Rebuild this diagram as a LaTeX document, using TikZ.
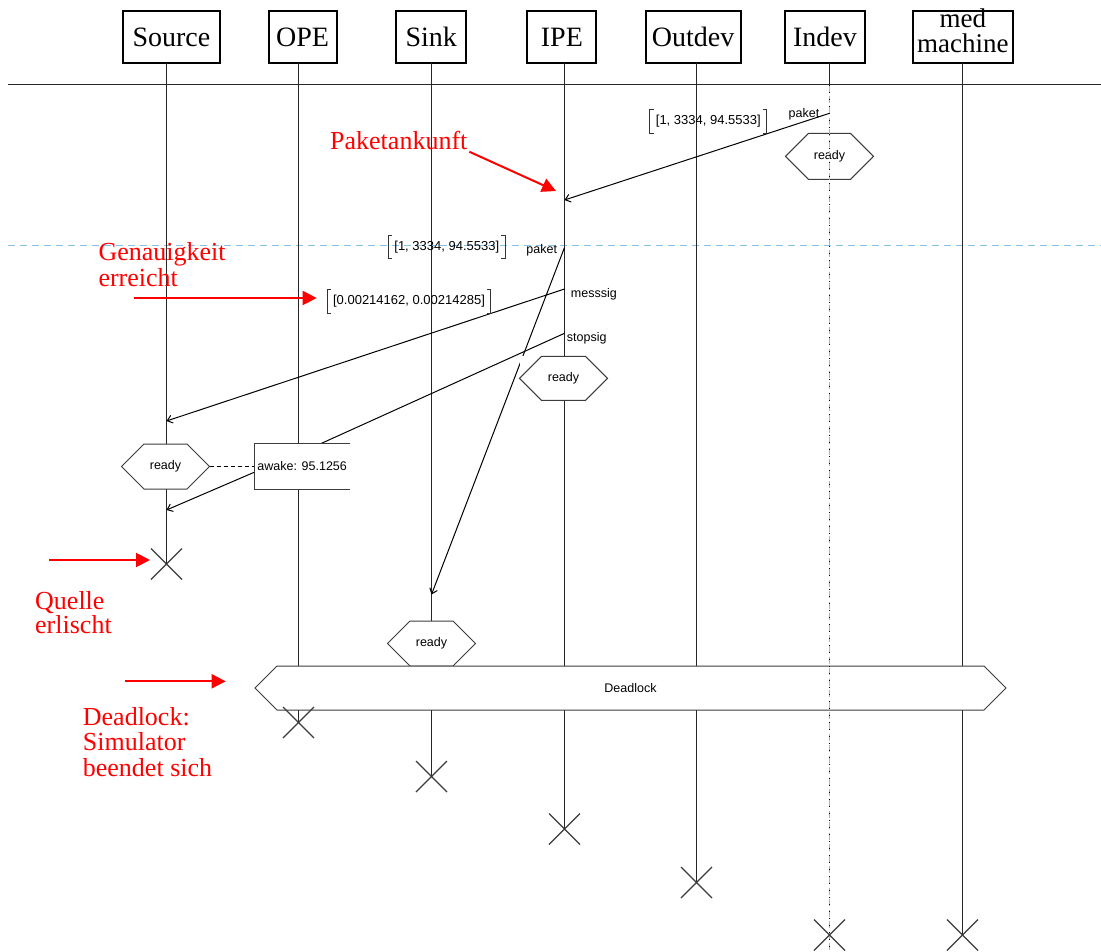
\documentclass[tikz,border=0pt]{standalone}
\usepackage{fontspec}
\setmainfont{Liberation Serif}
\newfontfamily\labfont{Liberation Sans}
\usetikzlibrary{arrows.meta,shapes.misc}

% Pointed state box: a rectangle whose left and right sides end in 45-degree points.
% Its whole bounding rectangle is painted white first, so it hides what lies below.
\makeatletter
\pgfdeclareshape{hexcell}{%
  \inheritsavedanchors[from=rectangle]%
  \inheritanchorborder[from=rectangle]%
  \inheritanchor[from=rectangle]{center}%
  \inheritanchor[from=rectangle]{mid}%
  \inheritanchor[from=rectangle]{base}%
  \inheritanchor[from=rectangle]{north}%
  \inheritanchor[from=rectangle]{south}%
  \inheritanchor[from=rectangle]{east}%
  \inheritanchor[from=rectangle]{west}%
  \inheritanchor[from=rectangle]{north east}%
  \inheritanchor[from=rectangle]{north west}%
  \inheritanchor[from=rectangle]{south east}%
  \inheritanchor[from=rectangle]{south west}%
  \behindbackgroundpath{%
    \begin{pgfscope}%
      \pgfpathrectanglecorners{\southwest}{\northeast}%
      \pgfsetfillcolor{white}%
      \pgfusepath{fill}%
    \end{pgfscope}%
  }%
  \backgroundpath{%
    \southwest \pgf@xa=\pgf@x \pgf@ya=\pgf@y
    \northeast \pgf@xb=\pgf@x \pgf@yb=\pgf@y
    \pgf@yc=\pgf@yb \advance\pgf@yc by -\pgf@ya \divide\pgf@yc by 2
    \pgf@xc=\pgf@xa \advance\pgf@xc by \pgf@yc
    \edef\hx@l{\the\pgf@xa}\edef\hx@li{\the\pgf@xc}%
    \pgf@xc=\pgf@xb \advance\pgf@xc by -\pgf@yc
    \edef\hx@ri{\the\pgf@xc}\edef\hx@r{\the\pgf@xb}%
    \pgf@xc=\pgf@ya \advance\pgf@xc by \pgf@yc
    \edef\hx@m{\the\pgf@xc}\edef\hx@t{\the\pgf@yb}\edef\hx@b{\the\pgf@ya}%
    \pgfpathmoveto{\pgfqpoint{\hx@l}{\hx@m}}%
    \pgfpathlineto{\pgfqpoint{\hx@li}{\hx@t}}%
    \pgfpathlineto{\pgfqpoint{\hx@ri}{\hx@t}}%
    \pgfpathlineto{\pgfqpoint{\hx@r}{\hx@m}}%
    \pgfpathlineto{\pgfqpoint{\hx@ri}{\hx@b}}%
    \pgfpathlineto{\pgfqpoint{\hx@li}{\hx@b}}%
    \pgfpathclose
  }%
}
\makeatother

\definecolor{lifegray}{HTML}{262626}
\definecolor{shapegray}{HTML}{3C3C3C}
\definecolor{gridblue}{HTML}{86C1E8}
\definecolor{notered}{HTML}{FF0000}

\tikzset{
  hdr/.style={draw=black, line width=2pt, minimum height=52.5pt, inner sep=0pt,
    outer sep=0pt, text height=19pt, text depth=0pt, font=\fontsize{28}{28}\selectfont},
  life/.style={draw=lifegray, line width=1.5pt},
  msg/.style={draw=black, line width=1pt},
  msgarrow/.style={msg, -{Straight Barb[length=5pt,width=8pt]}},
  state/.style={shape=hexcell, draw=shapegray, line width=1pt, minimum height=45pt,
    minimum width=88pt, inner sep=0pt, outer sep=0pt,
    font=\labfont\fontsize{12.5}{12.5}\selectfont},
  small/.style={font=\labfont\fontsize{12.5}{12.5}\selectfont, inner sep=0pt},
  vec/.style={font=\labfont\fontsize{13}{13}\selectfont, inner xsep=6pt, inner ysep=0pt,
    minimum height=23.5pt, outer sep=0pt},
  bracketline/.style={draw=black!80, line width=1pt},
  ending/.style={shape=cross out, draw=shapegray, line width=1.2pt, minimum size=31pt,
    inner sep=0pt, outer sep=0pt},
  note/.style={text=notered, font=\fontsize{26}{26}\selectfont, inner sep=0pt, anchor=base west},
  notearrow/.style={draw=notered, line width=2pt, -{Triangle[length=14pt,width=14pt]}},
}

% tall square brackets round a value node
\newcommand\valbrackets[1]{%
  \draw[bracketline] ([xshift=4pt]#1.north west) -- (#1.north west) -- (#1.south west) -- ([xshift=4pt]#1.south west)
    ([xshift=-4pt]#1.north east) -- (#1.north east) -- (#1.south east) -- ([xshift=-4pt]#1.south east);}

\begin{document}
\begin{tikzpicture}[x=1pt,y=-1pt]
\fill[white] (0,0) rectangle (1101,951);
\useasboundingbox (0,0) rectangle (1101,951);

% separator lines
\coordinate (sepL) at (8,84.5);   \coordinate (sepR) at (1101,84.5);
\coordinate (gridL) at (8,245.5); \coordinate (gridR) at (1101,245.5);
\draw[line width=1.4pt, draw=lifegray] (sepL) -- (sepR);
\draw[gridblue, line width=1.3pt, dash pattern=on 7pt off 5pt] (gridL) -- (gridR);

% instance heads
\node[hdr, minimum width=97.2pt] (src) at (171.4,36.9) {Source};
\node[hdr, minimum width=68pt]   (ope) at (302.5,36.9) {OPE};
\node[hdr, minimum width=69.5pt] (snk) at (431.2,36.9) {Sink};
\node[hdr, minimum width=69pt]   (ipe) at (561.9,36.9) {IPE};
\node[hdr, minimum width=95.2pt] (out) at (693.2,36.9) {Outdev};
\node[hdr, minimum width=80.3pt] (ind) at (824.9,36.9) {Indev};
\node[hdr, minimum width=100.4pt] (med) at (962.8,36.9) {};
\node[font=\fontsize{27}{24.5}\selectfont, align=center, inner sep=0pt] (medtxt) at (962.8,31) {med\\machine};

% where each lifeline ends
\coordinate (srcEnd) at (166.5,564);
\coordinate (opeEnd) at (298.5,722.5);
\coordinate (snkEnd) at (431.5,776.5);
\coordinate (ipeEnd) at (564.5,829);
\coordinate (outEnd) at (696.5,882.5);
\coordinate (indEnd) at (829.5,935);
\coordinate (medEnd) at (962.5,935);

% lifelines
\draw[life] (src.south -| srcEnd) -- (srcEnd);
\draw[life] (ope.south -| opeEnd) -- (opeEnd);
\draw[life] (snk.south -| snkEnd) -- (snkEnd);
\draw[life] (ipe.south -| ipeEnd) -- (ipeEnd);
\draw[life] (out.south -| outEnd) -- (outEnd);
\coordinate (indTop) at (829.5,84.5);
\coordinate (indBot) at (829.5,951);
\draw[life] (ind.south -| indEnd) -- (indTop);
\draw[life] (med.south -| medEnd) -- (medEnd);

% message end points on the lifelines
\coordinate (pkInS)  at (829.5,113.3);
\coordinate (pkInE)  at (564.5,200);
\coordinate (pkOutS) at (564.5,247.5);
\coordinate (pkOutE) at (431.5,594.5);
\coordinate (msS)    at (564.5,289);
\coordinate (msE)    at (166.5,421);
\coordinate (stS)    at (564.5,333.3);
\coordinate (stE)    at (320,444);
\coordinate (awE)    at (166.5,510);

% messages
\draw[msgarrow] (pkInS) -- (pkInE);
\draw[msgarrow] (pkOutS) -- (pkOutE);
\draw[msgarrow] (msS) -- (msE);
\draw[msg] (stS) -- (stE);

% states
\node[state, minimum height=46pt] (rInd) at (829.5,156.3) {ready};
\node[state, minimum height=44pt] (rIpe) at (563.5,378.3) {ready};
\node[state] (rSrc) at (165.5,466.5) {ready};
\node[state] (rSnk) at (431.5,643.5) {ready};
\node[state, minimum width=751pt, minimum height=44pt] (dead) at (630.5,688) {Deadlock};

% timer on OPE, open on its right side
\node[small, fill=white, minimum width=95.7pt, minimum height=45pt] (aw) at (302.2,466.5) {awake: 95.1256};
\draw[line width=1.1pt, draw=shapegray] (aw.north east) -- (aw.north west) -- (aw.south west) -- (aw.south east);
\draw[msg, dash pattern=on 4pt off 3pt] (rSrc.east) -- (aw.west);
\draw[msgarrow] ([yshift=-5.8pt]aw.west) -- (awE);

% Indev lifeline below the separator
\draw[gridblue, line width=1.3pt, dash pattern=on 7pt off 4pt] (indTop) -- (indBot);
\draw[black, line width=1.1pt, dash pattern=on 1.2pt off 5.8pt] (indTop) -- (indBot);

% lifeline ends
\node[ending] (srcX) at (srcEnd) {};
\node[ending] (opeX) at (opeEnd) {};
\node[ending] (snkX) at (snkEnd) {};
\node[ending] (ipeX) at (ipeEnd) {};
\node[ending] (outX) at (outEnd) {};
\node[ending] (indX) at (indEnd) {};
\node[ending] (medX) at (medEnd) {};

% message labels
\node[small, anchor=base] (lPk1) at (804,117.3) {paket};
\node[small, anchor=base] (lPk2) at (541.7,253) {paket};
\node[small, anchor=base west] (lMs) at (570.7,297) {messsig};
\node[small, anchor=base west] (lSt) at (566.7,341) {stopsig};

\node[vec] (v1) at (708.3,121.5) {[1, 3334, 94.5533]};
\node[vec] (v2) at (446.8,247) {[1, 3334, 94.5533]};
\node[vec] (v3) at (409,301.5) {[0.00214162, 0.00214285]};
\valbrackets{v1}
\valbrackets{v2}
\valbrackets{v3}

% annotations
\node[note] (nPak) at (330,149) {Paketankunft};
\node[note] (nGen1) at (98.3,260.7) {Genauigkeit};
\node[note] (nGen2) at (98.3,286) {erreicht};
\node[note] (nQ1) at (35,609) {Quelle};
\node[note] (nQ2) at (35,633) {erlischt};
\node[note] (nD1) at (82.7,725) {Deadlock:};
\node[note] (nD2) at (82.7,750.7) {Simulator};
\node[note] (nD3) at (82.7,776.7) {beendet sich};

\coordinate (aPakS) at (469.3,151.7); \coordinate (aPakE) at (556,191);
\coordinate (aGenS) at (134,298);     \coordinate (aGenE) at (316.7,298);
\coordinate (aQS)   at (49.3,560);    \coordinate (aQE)   at (150,560);
\coordinate (aDS)   at (125,681.3);   \coordinate (aDE)   at (225.7,681.3);
\draw[notearrow] (aPakS) -- (aPakE);
\draw[notearrow] (aGenS) -- (aGenE);
\draw[notearrow] (aQS) -- (aQE);
\draw[notearrow] (aDS) -- (aDE);
\end{tikzpicture}
\end{document}
